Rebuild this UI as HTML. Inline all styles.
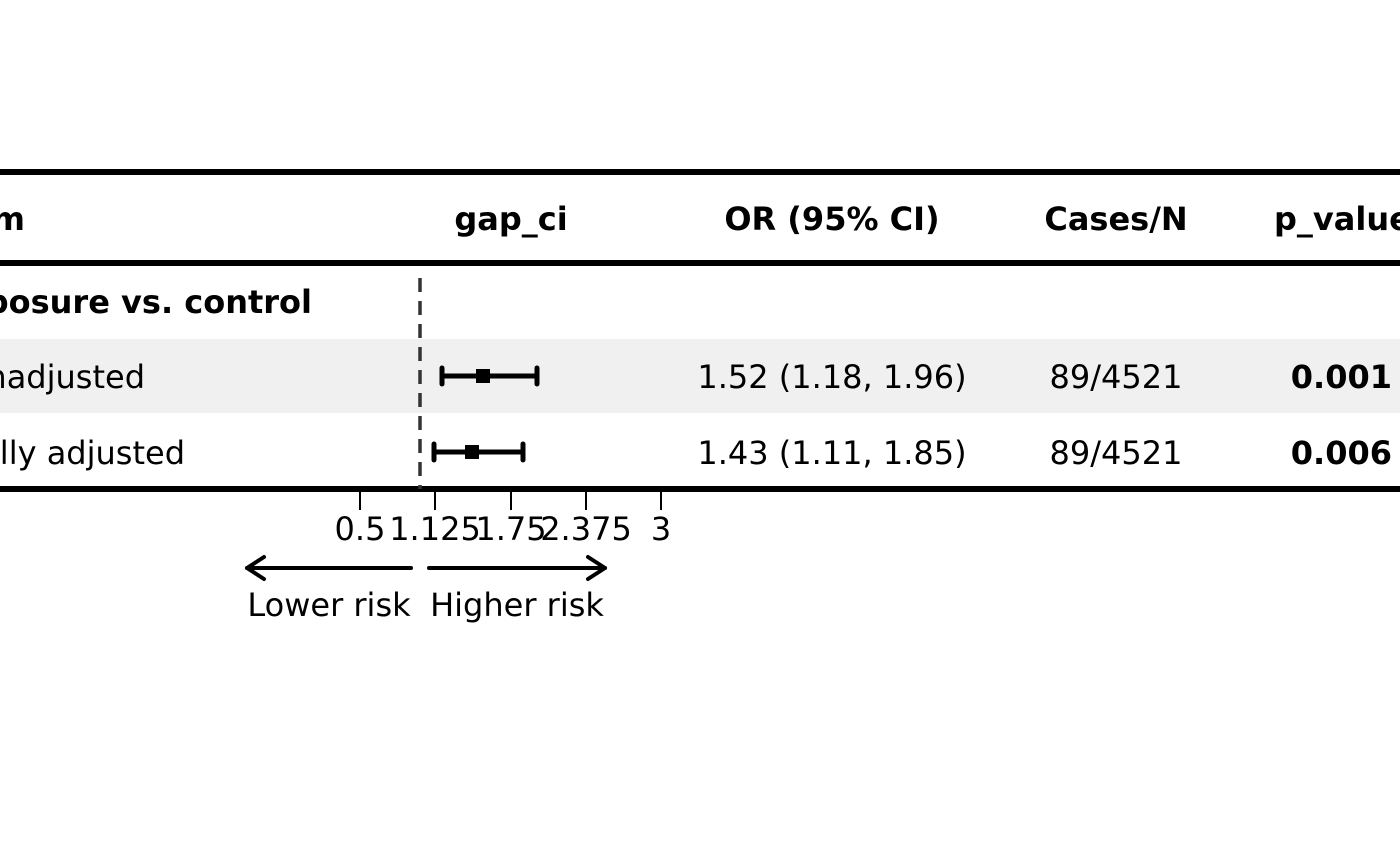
<!DOCTYPE html>
<html><head><style>html,body{margin:0;padding:0;background:#fff;}svg{display:block}</style></head>
<body>
<svg width="1400" height="866" xmlns="http://www.w3.org/2000/svg" font-family="DejaVu Sans, Liberation Sans, sans-serif" font-size="32">
<rect x="0" y="339" width="1400" height="74" fill="#f0f0f0"/>
<line x1="0" y1="172" x2="1400" y2="172" stroke="#000" stroke-width="6"/>
<line x1="0" y1="263" x2="1400" y2="263" stroke="#000" stroke-width="6"/>
<line x1="0" y1="489" x2="1400" y2="489" stroke="#000" stroke-width="6"/>
<g font-weight="bold">
<text x="25" y="230" text-anchor="end">Term</text>
<text x="511" y="230" text-anchor="middle">gap_ci</text>
<text x="832" y="230" text-anchor="middle">OR (95% CI)</text>
<text x="1116" y="230" text-anchor="middle">Cases/N</text>
<text x="1274" y="230">p_value</text>
<text x="312" y="313" text-anchor="end">Exposure vs. control</text>
<text x="1392" y="388" text-anchor="end">0.001</text>
<text x="1392" y="464" text-anchor="end">0.006</text>
</g>
<text x="145" y="388" text-anchor="end">Unadjusted</text>
<text x="185" y="464" text-anchor="end">Fully adjusted</text>
<text x="832" y="388" text-anchor="middle">1.52 (1.18, 1.96)</text>
<text x="832" y="464" text-anchor="middle">1.43 (1.11, 1.85)</text>
<text x="1116" y="388" text-anchor="middle">89/4521</text>
<text x="1116" y="464" text-anchor="middle">89/4521</text>
<line x1="420" y1="278" x2="420" y2="489" stroke="#333" stroke-width="3.5" stroke-dasharray="14,9"/>
<g stroke="#000" stroke-width="5" stroke-linecap="round">
<line x1="442" y1="376" x2="537" y2="376"/><line x1="442" y1="368" x2="442" y2="384"/><line x1="537" y1="368" x2="537" y2="384"/>
<line x1="434" y1="452" x2="523" y2="452"/><line x1="434" y1="444" x2="434" y2="460"/><line x1="523" y1="444" x2="523" y2="460"/>
</g>
<rect x="476" y="369" width="14" height="14" fill="#000"/>
<rect x="465" y="445" width="14" height="14" fill="#000"/>
<g stroke="#000" stroke-width="2">
<line x1="360" y1="491" x2="360" y2="510"/><line x1="435" y1="491" x2="435" y2="510"/><line x1="511" y1="491" x2="511" y2="510"/><line x1="586" y1="491" x2="586" y2="510"/><line x1="661" y1="491" x2="661" y2="510"/>
</g>
<g text-anchor="middle">
<text x="360" y="540">0.5</text><text x="435" y="540">1.125</text><text x="511" y="540">1.75</text><text x="586" y="540">2.375</text><text x="661" y="540">3</text>
</g>
<g stroke="#000" stroke-width="4" fill="none" stroke-linecap="round" stroke-linejoin="round">
<line x1="411" y1="568" x2="247" y2="568"/><polyline points="264,557 247,568 264,579"/>
<line x1="429" y1="568" x2="605" y2="568"/><polyline points="588,557 605,568 588,579"/>
</g>
<text x="329" y="616" text-anchor="middle">Lower risk</text>
<text x="517" y="616" text-anchor="middle">Higher risk</text>
</svg>
</body></html>
